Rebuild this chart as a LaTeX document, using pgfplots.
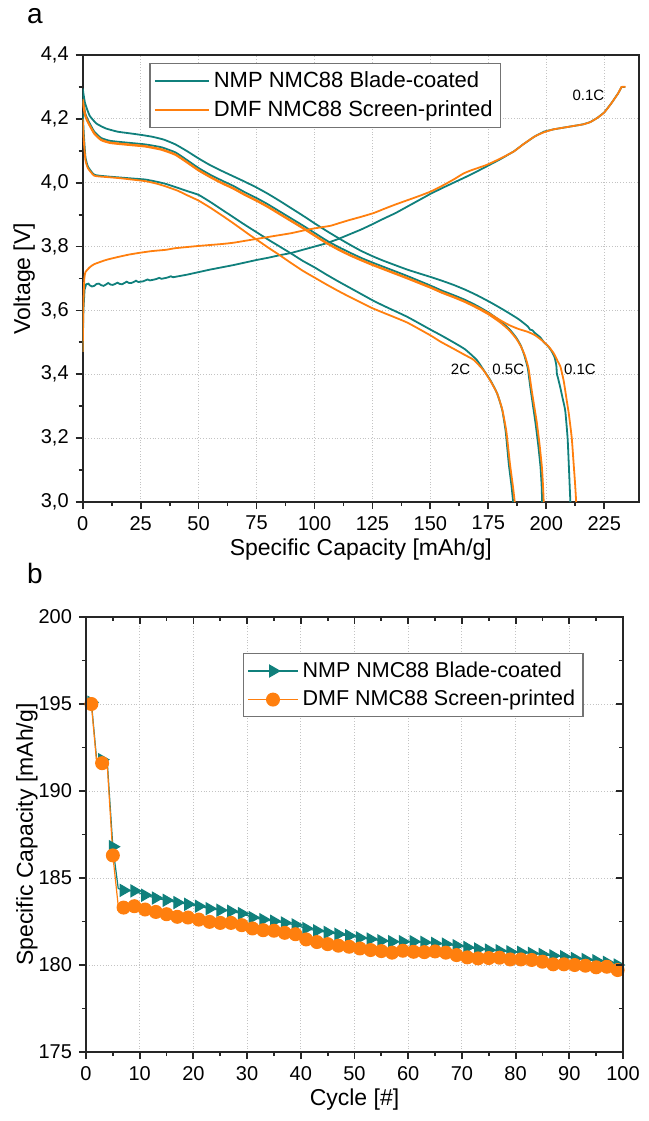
\documentclass[border=0pt]{standalone}
\usepackage{fontspec}
\setmainfont{Liberation Sans}
\usepackage{pgfplots}
\pgfplotsset{compat=1.18}
\definecolor{tealc}{RGB}{16,128,124}
\definecolor{orangec}{RGB}{255,127,14}
\definecolor{gridc}{RGB}{195,195,195}
\pgfplotsset{
  common/.style={
    scale only axis,
    tick align=outside,
    tick pos=left,
    major tick length=3.5pt,
    minor tick length=2pt,
    grid=major,
    major grid style={gridc, densely dotted, line width=0.5pt},
    axis line style={line width=0.9pt, black!85},
    every tick/.style={line width=0.9pt, black!85},
    /pgf/number format/assume math mode=true,
    tick label style={font=\fontsize{10}{12}\selectfont},
    label style={font=\fontsize{11.5}{13}\selectfont},
    legend cell align=left,
  },
  curve/.style={line width=0.9pt, smooth, tension=0.3},
}
\begin{document}
\begin{tikzpicture}
\useasboundingbox (0pt,0pt) rectangle (324.5pt,-560.5pt);
\node[font=\fontsize{14}{16}\selectfont] at (17.5pt,-8pt) {a};
\node[font=\fontsize{14}{16}\selectfont] at (17.5pt,-286.5pt) {b};
% ---------------- panel a ----------------
\begin{axis}[common,
  at={(41.35pt,-27.5pt)}, anchor=north west,
  width=278.15pt, height=223.5pt,
  xmin=0, xmax=240, ymin=3, ymax=4.4,
  xtick={0,25,50,75,100,125,150,175,200,225}, minor x tick num=1,
  ytick={3,3.2,3.4,3.6,3.8,4,4.2,4.4}, minor y tick num=1,
  yticklabel style={/pgf/number format/.cd, use comma, fixed, fixed zerofill, precision=1},
  xlabel={Specific Capacity [mAh/g]},
  ylabel={Voltage [V]},
  x label style={at={(axis description cs:0.5,-0.107)}, anchor=center},
  y label style={at={(axis description cs:-0.105,0.5)}, anchor=center},
  legend style={at={(0.12,0.982)}, anchor=north west, draw=black!55, line width=0.6pt,
    font=\fontsize{11}{12}\selectfont, inner sep=2pt, row sep=1pt},
  legend image code/.code={\draw[#1, line width=0.9pt] (0pt,0pt) -- (27pt,0pt);},
]
% NMP 0.1C discharge
\addplot[tealc, curve] coordinates {
(0,4.295)(1,4.25)(3,4.21)(6,4.185)(10,4.17)(15,4.16)(20,4.155)(25,4.15)(30,4.144)(35,4.135)(40,4.12)(45,4.099)(50,4.076)(55,4.055)(60,4.037)(65,4.02)(70,4.003)(75,3.985)(80,3.965)(85,3.943)(90,3.92)(95,3.897)(100,3.873)(105,3.85)(110,3.828)(115,3.807)(120,3.787)(125,3.77)(130,3.755)(140,3.728)(150,3.705)(155,3.693)(160,3.68)(165,3.665)(170,3.648)(176,3.625)(182,3.60)(188,3.573)(192,3.55)(193,3.54)(194,3.538)(195,3.53)(197.5,3.515)(199,3.50)(200.5,3.49)(202,3.476)(203.5,3.455)(204.3,3.43)(204.6,3.40)(205,3.39)(206,3.36)(207.2,3.32)(208.2,3.285)(209.2,3.2)(209.7,3.12)(210.1,3.05)(210.4,3.0)};
\addlegendentry{NMP NMC88 Blade-coated}
% NMP 0.5C discharge
\addplot[tealc, curve, forget plot] coordinates {
(0,4.275)(1,4.22)(2.3,4.196)(5,4.16)(8,4.14)(12,4.131)(20,4.125)(27,4.12)(34,4.111)(40,4.095)(45,4.071)(50,4.046)(55,4.025)(60,4.007)(65,3.99)(70,3.97)(75,3.952)(80,3.932)(85,3.91)(90,3.888)(95,3.866)(100,3.843)(105,3.82)(110,3.8)(115,3.782)(120,3.765)(125,3.75)(130,3.736)(140,3.708)(150,3.678)(155,3.662)(160,3.648)(165,3.633)(170,3.615)(175,3.594)(180,3.568)(184,3.542)(187,3.515)(189,3.49)(190.5,3.46)(192,3.42)(193.1,3.36)(194.3,3.3)(195.3,3.25)(196.5,3.18)(197.5,3.11)(198,3.05)(198.2,3.0)};
% NMP 2C discharge
\addplot[tealc, curve, forget plot] coordinates {
(0,4.22)(0.5,4.15)(1.2,4.08)(2.3,4.05)(5,4.025)(10,4.02)(15,4.017)(20,4.014)(27,4.01)(32,4.003)(36,3.996)(41,3.984)(45,3.974)(50,3.962)(55,3.94)(60,3.916)(65,3.892)(70,3.868)(75,3.845)(80,3.822)(85,3.80)(90,3.778)(95,3.755)(100,3.735)(105,3.713)(110,3.692)(115,3.672)(120,3.652)(125,3.632)(130,3.614)(140,3.58)(150,3.54)(154.4,3.523)(160,3.50)(165,3.478)(170,3.445)(173,3.413)(176,3.38)(178.8,3.34)(181,3.288)(182.5,3.22)(183.8,3.121)(185,3.05)(185.7,3.0)};
% NMP 0.1C charge
\addplot[tealc, line width=0.9pt, forget plot] coordinates {
(0,3.47)(0.3,3.6)(0.8,3.665)(1.5,3.682)(2.5,3.684)(3,3.679)(4,3.675)(5,3.677)(6,3.683)(7,3.684)(8,3.679)(9,3.677)(10,3.681)(11,3.686)(12,3.681)(13,3.680)(14,3.683)(15,3.687)(16,3.683)(17,3.682)(18,3.686)(19,3.690)(20,3.686)(21,3.686)(22,3.689)(23,3.693)(24,3.689)(26,3.691)(27,3.694)(28,3.697)(29,3.694)(31,3.697)(32,3.699)(33,3.702)(34,3.699)(36,3.702)(37,3.704)(38,3.707)(39,3.704)(42,3.708)(45,3.712)(50,3.72)(55,3.728)(60,3.735)(65,3.742)(70,3.75)(75,3.758)(80,3.765)(85,3.773)(90,3.78)(95,3.79)(100,3.80)(105,3.81)(110,3.823)(115,3.838)(120,3.853)(125,3.87)(130,3.888)(135,3.905)(140,3.925)(145,3.945)(150,3.965)(155,3.983)(160,4.0)(165,4.017)(170,4.035)(174,4.05)(180,4.073)(186,4.098)(190,4.12)(195,4.145)(199,4.16)(203,4.167)(207,4.172)(212,4.178)(216,4.183)(219,4.19)(222,4.203)(225,4.22)(228,4.248)(231,4.28)(232.5,4.30)(234,4.30)};
% DMF 0.1C discharge
\addplot[orangec, curve] coordinates {
(0,4.262)(1,4.215)(2.3,4.19)(5,4.155)(8,4.135)(12,4.126)(20,4.12)(27,4.115)(34,4.105)(40,4.089)(45,4.065)(50,4.04)(55,4.019)(60,4.0)(65,3.983)(70,3.963)(75,3.945)(80,3.925)(85,3.903)(90,3.881)(95,3.859)(100,3.836)(105,3.813)(110,3.793)(115,3.775)(120,3.759)(125,3.744)(130,3.73)(140,3.702)(150,3.673)(155,3.657)(160,3.643)(165,3.628)(170,3.611)(175,3.592)(180,3.57)(184,3.554)(188,3.542)(192,3.533)(195,3.523)(198,3.507)(201,3.487)(203.2,3.466)(205,3.44)(206.1,3.424)(207.5,3.38)(209,3.31)(209.7,3.278)(211,3.2)(211.8,3.12)(212.4,3.06)(212.9,3.0)};
\addlegendentry{DMF NMC88 Screen-printed}
% DMF 0.5C discharge
\addplot[orangec, curve, forget plot] coordinates {
(0,4.255)(1,4.21)(2.3,4.188)(5,4.153)(8,4.133)(12,4.124)(20,4.118)(27,4.113)(34,4.103)(40,4.087)(45,4.063)(50,4.038)(55,4.017)(60,3.998)(65,3.981)(70,3.961)(75,3.943)(80,3.923)(85,3.901)(90,3.879)(95,3.857)(100,3.834)(105,3.811)(110,3.791)(115,3.773)(120,3.757)(125,3.742)(130,3.728)(140,3.70)(150,3.671)(155,3.655)(160,3.641)(165,3.626)(170,3.608)(175,3.588)(180,3.563)(184,3.538)(187,3.512)(189,3.488)(190.7,3.46)(192.3,3.42)(193.5,3.36)(194.8,3.3)(195.9,3.25)(197.1,3.18)(198.1,3.11)(198.6,3.05)(198.9,3.0)};
% DMF 2C discharge
\addplot[orangec, curve, forget plot] coordinates {
(0,4.20)(0.5,4.13)(1.2,4.07)(2.3,4.045)(5,4.022)(10,4.018)(15,4.015)(20,4.011)(27,4.005)(32,3.997)(36,3.988)(41,3.975)(45,3.961)(50,3.944)(55,3.922)(60,3.898)(65,3.873)(70,3.847)(72.3,3.835)(75,3.822)(80,3.797)(85,3.773)(90,3.748)(95,3.724)(100,3.703)(105,3.682)(110,3.662)(115,3.643)(120,3.625)(125,3.607)(130,3.592)(140,3.562)(150,3.522)(154.4,3.502)(160,3.48)(165,3.46)(168.7,3.445)(172.9,3.413)(176,3.378)(178.8,3.34)(181,3.29)(182.8,3.22)(184.3,3.121)(185.6,3.05)(186.4,3.0)};
% DMF 0.1C charge
\addplot[orangec, curve, forget plot] coordinates {
(0,3.47)(0.3,3.62)(0.7,3.70)(1.2,3.72)(3,3.735)(5,3.745)(10,3.758)(15,3.767)(20,3.775)(25,3.781)(30,3.786)(36,3.79)(40,3.795)(50,3.802)(60,3.808)(65,3.812)(70,3.818)(75,3.824)(80,3.83)(85,3.836)(90,3.842)(95,3.85)(100,3.857)(106.8,3.865)(110,3.872)(115,3.883)(120,3.893)(125.5,3.905)(130,3.918)(135,3.932)(140,3.945)(145,3.958)(150,3.972)(155,3.99)(160,4.01)(164.3,4.029)(168,4.04)(174,4.055)(180,4.075)(186,4.098)(190,4.12)(195,4.145)(199,4.158)(203,4.167)(207,4.172)(212,4.178)(216,4.183)(219,4.19)(222,4.203)(225,4.22)(228,4.248)(231,4.28)(232.5,4.30)(234.2,4.30)};
\node[font=\fontsize{7.5}{9}\selectfont] at (axis cs:163,3.417) {2C};
\node[font=\fontsize{7.5}{9}\selectfont] at (axis cs:183.6,3.417) {0.5C};
\node[font=\fontsize{7.5}{9}\selectfont] at (axis cs:214.5,3.417) {0.1C};
\node[font=\fontsize{7.5}{9}\selectfont] at (axis cs:218.2,4.275) {0.1C};
\end{axis}
% ---------------- panel b ----------------
\begin{axis}[common,
  at={(43pt,-308.5pt)}, anchor=north west,
  width=268.5pt, height=217.5pt,
  xmin=0, xmax=100, ymin=175, ymax=200,
  xtick={0,10,...,100}, minor x tick num=1,
  ytick={175,180,185,190,195,200}, minor y tick num=1,
  xlabel={Cycle [\#]},
  ylabel={Specific Capacity [mAh/g]},
  x label style={at={(axis description cs:0.5,-0.110)}, anchor=center},
  y label style={at={(axis description cs:-0.110,0.5)}, anchor=center},
  legend style={at={(0.292,0.917)}, anchor=north west, draw=black!55, line width=0.6pt,
    font=\fontsize{10.75}{12}\selectfont, inner sep=2pt, row sep=1pt},
  legend image code/.code={\draw[#1, mark repeat=2, mark phase=2] plot coordinates {(0pt,0pt) (12.5pt,0pt) (25pt,0pt)};},
]
\addplot[tealc, line width=0.6pt, mark=triangle*, mark size=3.3pt, mark repeat=2, mark phase=1,
  mark options={rotate=-90, fill=tealc, draw=tealc}] coordinates {
(1,195.1)(2,191.75)(3,191.8)(4,191.5)(5,186.8)(6,184.4)(7,184.29)(8,184.27)(9,184.26)(10,184.13)
(11,184.01)(12,183.93)(13,183.85)(14,183.78)(15,183.72)(16,183.65)(17,183.59)(18,183.54)(19,183.49)(20,183.43)
(21,183.38)(22,183.31)(23,183.24)(24,183.2)(25,183.15)(26,183.12)(27,183.09)(28,183.02)(29,182.96)(30,182.85)
(31,182.73)(32,182.67)(33,182.61)(34,182.56)(35,182.52)(36,182.47)(37,182.42)(38,182.36)(39,182.31)(40,182.2)
(41,182.10)(42,182.03)(43,181.97)(44,181.92)(45,181.87)(46,181.82)(47,181.77)(48,181.72)(49,181.68)(50,181.62)
(51,181.56)(52,181.52)(53,181.49)(54,181.44)(55,181.39)(56,181.36)(57,181.34)(58,181.34)(59,181.34)(60,181.34)
(61,181.34)(62,181.32)(63,181.30)(64,181.27)(65,181.24)(66,181.22)(67,181.20)(68,181.15)(69,181.11)(70,181.06)
(71,181.01)(72,180.96)(73,180.92)(74,180.89)(75,180.86)(76,180.84)(77,180.82)(78,180.79)(79,180.76)(80,180.74)
(81,180.73)(82,180.70)(83,180.67)(84,180.64)(85,180.61)(86,180.57)(87,180.53)(88,180.5)(89,180.48)(90,180.43)
(91,180.38)(92,180.35)(93,180.32)(94,180.28)(95,180.25)(96,180.2)(97,180.15)(98,180.07)(99,180.0)(100,179.9)};
\addlegendentry{NMP NMC88 Blade-coated}
\addplot[orangec, line width=0.6pt, mark=*, mark size=3.2pt, mark repeat=2, mark phase=1,
  mark options={fill=orangec, draw=orangec}] coordinates {
(1,195.0)(2,191.6)(3,191.6)(4,191.3)(5,186.3)(6,183.4)(7,183.30)(8,183.34)(9,183.38)(10,183.28)
(11,183.19)(12,183.12)(13,183.05)(14,182.98)(15,182.92)(16,182.84)(17,182.77)(18,182.75)(19,182.73)(20,182.67)
(21,182.61)(22,182.54)(23,182.48)(24,182.45)(25,182.42)(26,182.42)(27,182.42)(28,182.35)(29,182.29)(30,182.2)
(31,182.10)(32,182.05)(33,182.00)(34,181.98)(35,181.97)(36,181.91)(37,181.85)(38,181.81)(39,181.77)(40,181.62)
(41,181.47)(42,181.4)(43,181.32)(44,181.26)(45,181.20)(46,181.15)(47,181.11)(48,181.08)(49,181.05)(50,181.0)
(51,180.95)(52,180.9)(53,180.86)(54,180.83)(55,180.80)(56,180.75)(57,180.71)(58,180.76)(59,180.82)(60,180.79)
(61,180.76)(62,180.75)(63,180.74)(64,180.76)(65,180.78)(66,180.74)(67,180.71)(68,180.64)(69,180.57)(70,180.5)
(71,180.44)(72,180.41)(73,180.38)(74,180.39)(75,180.40)(76,180.41)(77,180.42)(78,180.37)(79,180.32)(80,180.32)
(81,180.32)(82,180.3)(83,180.29)(84,180.24)(85,180.19)(86,180.11)(87,180.04)(88,180.04)(89,180.04)(90,180.02)
(91,180.0)(92,179.98)(93,179.96)(94,179.91)(95,179.87)(96,179.88)(97,179.90)(98,179.8)(99,179.71)(100,179.52)};
\addlegendentry{DMF NMC88 Screen-printed}
\end{axis}
% mirrored inward ticks on top and right of panel b
\begin{axis}[
  scale only axis,
  at={(43pt,-308.5pt)}, anchor=north west,
  width=268.5pt, height=217.5pt,
  xmin=0, xmax=100, ymin=175, ymax=200,
  xtick={0,10,...,100}, minor x tick num=1,
  ytick={175,180,185,190,195,200}, minor y tick num=1,
  xtick pos=top, ytick pos=right, tick align=inside,
  major tick length=3.5pt, minor tick length=2pt,
  xticklabels={}, yticklabels={},
  axis line style={line width=0.9pt, black!85},
  every tick/.style={line width=0.9pt, black!85},
]
\end{axis}
\end{tikzpicture}
\end{document}
